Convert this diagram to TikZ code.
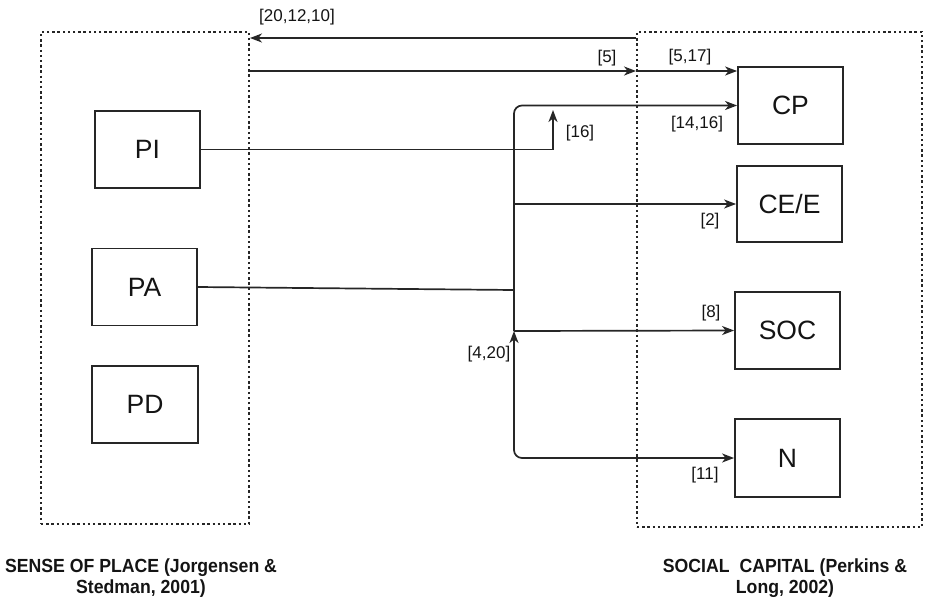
\documentclass[tikz,border=0pt]{standalone}
\usepackage{fontspec}
\setmainfont{Liberation Sans}
\newfontfamily\capfont[FakeStretch=0.93]{Liberation Sans Bold}
\usetikzlibrary{arrows.meta}
\definecolor{ln}{HTML}{262626}
\definecolor{tx}{HTML}{141414}
\begin{document}
\begin{tikzpicture}[x=1pt,y=-1pt,
  box/.style={draw=ln,line width=1.8pt,minimum width=105pt,minimum height=77pt,inner sep=0pt,
    font=\fontsize{26.5}{28}\selectfont,text=tx},
  grpbox/.style={draw=ln,line width=1.9pt,dash pattern=on 2.4pt off 2.8pt,inner sep=0pt},
  lab/.style={font=\fontsize{17}{19}\selectfont,text=tx,inner sep=0pt},
  captext/.style={font=\capfont\fontsize{19}{21}\selectfont,text=tx,align=center,inner sep=0pt},
  wire/.style={draw=ln,line width=1.7pt},
  arr/.style={wire,-{Stealth[length=12pt,width=9pt,inset=3.5pt]}},
  arrb/.style={wire,{Stealth[length=12pt,width=9pt,inset=3.5pt]}-{Stealth[length=12pt,width=9pt,inset=3.5pt]}}]
\useasboundingbox (0,0) rectangle (927,600);
% groups
\node[grpbox,minimum width=208pt,minimum height=492pt] (spl) at (145,278) {};
\node[grpbox,minimum width=285pt,minimum height=495pt] (scb) at (779.5,279.5) {};
% boxes
\node[box] (PI) at (147.5,149.5) {PI};
\node[box] (PA) at (144.5,287) {PA};
\node[box,minimum width=106pt] (PD) at (145,404.5) {PD};
\node[box] (CP) at (790.5,105.5) {CP};
\node[box,minimum height=76pt] (CEE) at (789.5,204) {CE/E};
\node[box] (SOC) at (787.5,330.5) {SOC};
\node[box,minimum height=78pt] (N) at (787.5,458) {N};
% helper coordinates
\coordinate (ytop) at (0,38);
\coordinate (yfive) at (0,71);
\coordinate (jPA) at (514,290);
\coordinate (jSOC) at (514,331);
\coordinate (kPI) at (553,110);
% connectors
\draw[arr] (scb.north west |- ytop) -- (spl.north east |- ytop);
\draw[arr] (spl.north east |- yfive) -- (scb.north west |- yfive);
\draw[arr] (scb.north west |- yfive) -- (CP.north west |- yfive);
\draw[wire] (PA.east) -- (jPA);
\draw[arr,rounded corners=8pt] (jSOC) -- (jPA) |- (CP.west);
\draw[arr] (PI.east) -| (kPI);
\draw[arr] (jPA |- CEE.west) -- (CEE.west);
\draw[arr] (jSOC) -- (SOC.west);
\draw[arrb,rounded corners=8pt] (jSOC) |- (N.west);
% labels
\node[lab] (l1) at (297,17) {[20,12,10]};
\node[lab] (l2) at (607,58) {[5]};
\node[lab] (l3) at (690,57) {[5,17]};
\node[lab] (l4) at (697,124) {[14,16]};
\node[lab] (l5) at (580,133) {[16]};
\node[lab] (l6) at (710,221) {[2]};
\node[lab] (l7) at (711,313) {[8]};
\node[lab] (l8) at (489,354) {[4,20]};
\node[lab] (l9) at (705,475) {[11]};
% captions
\node[captext] (c1) at (141,578) {SENSE OF PLACE (Jorgensen \&\\Stedman, 2001)};
\node[captext] (c2) at (785,578) {SOCIAL\ \ CAPITAL (Perkins \&\\Long, 2002)};
\end{tikzpicture}
\end{document}
